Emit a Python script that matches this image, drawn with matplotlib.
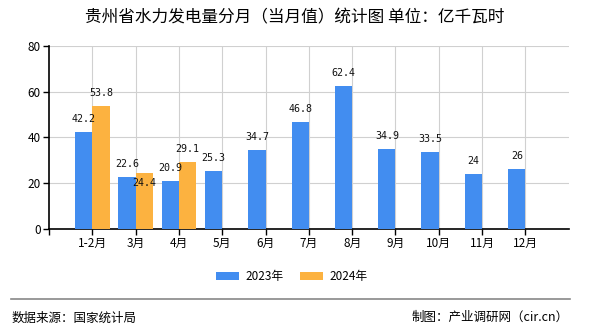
import matplotlib
matplotlib.use("Agg")
import matplotlib.pyplot as plt
import numpy as np

plt.rcParams['font.family'] = ['Noto Sans CJK SC', 'DejaVu Sans']

categories = ["1-2月", "3月", "4月", "5月", "6月", "7月", "8月", "9月", "10月", "11月", "12月"]
values_2023 = [42.2, 22.6, 20.9, 25.3, 34.7, 46.8, 62.4, 34.9, 33.5, 24, 26]
values_2024 = [53.8, 24.4, 29.1]
labels_2023 = ["42.2", "22.6", "20.9", "25.3", "34.7", "46.8", "62.4", "34.9", "33.5", "24", "26"]
labels_2024 = ["53.8", "24.4", "29.1"]
series_names = ["2023年", "2024年"]
colors = ["#428df0", "#fcb240"]

fig = plt.figure(figsize=(5.9, 3.3), dpi=100)
ax = fig.add_axes([0.083, 0.306, 0.881, 0.555])

x = np.arange(len(categories))
w = 0.4
x24 = np.arange(len(values_2024))
b1 = ax.bar(x - w/2, values_2023, width=w, color=colors[0], label=series_names[0], zorder=3)
b2 = ax.bar(x24 + w/2, values_2024, width=w, color=colors[1], label=series_names[1], zorder=3)

for xi, v, t in zip(x - w/2, values_2023, labels_2023):
    ax.text(xi, v + 5.7, t, ha='center', va='center', fontsize=7.2, color='#111111',
            family=['DejaVu Sans Mono'], zorder=5)
for i, (xi, v, t) in enumerate(zip(x24 + w/2, values_2024, labels_2024)):
    # the reference places the crowded 3月 label just inside the bar top
    dy = -4.3 if i == 1 else 5.7
    ax.text(xi, v + dy, t, ha='center', va='center', fontsize=7.2, color='#111111',
            family=['DejaVu Sans Mono'], zorder=5)

ax.set_xlim(-1, len(categories))
ax.set_ylim(0, 80)
ax.set_yticks([0, 20, 40, 60, 80])
ax.set_xticks(list(x))
ax.set_xticklabels(categories, fontsize=8.5)
ax.tick_params(axis='y', labelsize=8.5, length=4, width=1, color='black', pad=2)
ax.tick_params(axis='x', length=4, width=1, color='black', pad=2)
ax.grid(True, color='#d0d0d0', linewidth=0.8, zorder=0)
ax.set_axisbelow(True)
for s in ['top', 'right']:
    ax.spines[s].set_visible(False)
ax.spines['left'].set_linewidth(1.2)
ax.spines['bottom'].set_linewidth(1.2)
ax.set_xticks([-1], minor=True)
ax.tick_params(axis='x', which='minor', length=4, width=1)

fig.text(0.499, 0.945, "贵州省水力发电量分月（当月值）统计图 单位：亿千瓦时", ha='center', va='center', fontsize=12)

fig.legend(handles=[b1, b2], labels=series_names, loc='center', bbox_to_anchor=(0.494, 0.161),
           ncol=2, frameon=False, fontsize=8.5, handlelength=2.0, handleheight=0.7,
           columnspacing=1.4, handletextpad=0.5)

fig.add_artist(plt.Line2D([0.019, 0.966], [0.094, 0.094], color='#888888', linewidth=1.2,
                          transform=fig.transFigure))
fig.text(0.019, 0.037, "数据来源：国家统计局", ha='left', va='center', fontsize=9)
fig.text(0.963, 0.037, "制图：产业调研网（cir.cn）", ha='right', va='center', fontsize=9)

fig.savefig("out.png", dpi=100)
